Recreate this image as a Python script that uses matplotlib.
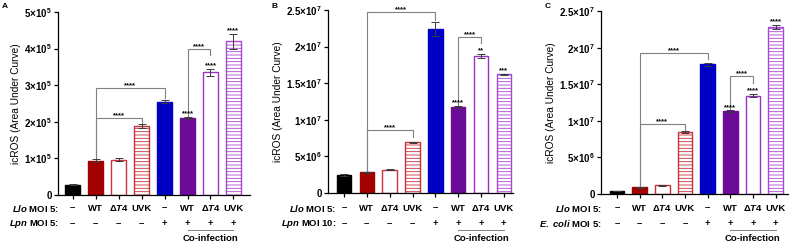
import matplotlib
matplotlib.use("Agg")
import matplotlib.pyplot as plt
import matplotlib.transforms as mtransforms
import numpy as np

plt.rcParams['font.family'] = ['Liberation Sans', 'DejaVu Sans']
plt.rcParams['font.weight'] = 'bold'
plt.rcParams['mathtext.fontset'] = 'custom'
plt.rcParams['mathtext.rm'] = 'Liberation Sans:bold'
plt.rcParams['mathtext.bf'] = 'Liberation Sans:bold'
plt.rcParams['mathtext.it'] = 'Liberation Sans:italic:bold'
plt.rcParams['hatch.linewidth'] = 0.6

################################################################################
# data

row1 = ['\u2013', 'WT', r'$\Delta\mathit{T4}$', 'UVK', '\u2013', 'WT', r'$\Delta\mathit{T4}$', 'UVK']
row2 = ['\u2013', '\u2013', '\u2013', '\u2013', '+', '+', '+', '+']

a_mean = [0.28e5, 0.93e5, 0.96e5, 1.88e5, 2.55e5, 2.10e5, 3.35e5, 4.20e5]
a_err = [0.02e5, 0.04e5, 0.04e5, 0.05e5, 0.04e5, 0.03e5, 0.10e5, 0.20e5]
b_mean = [2.45e6, 2.85e6, 3.2e6, 6.9e6, 2.24e7, 1.18e7, 1.875e7, 1.62e7]
b_err = [0.08e6, 0.08e6, 0.05e6, 0.12e6, 1.0e6, 0.12e6, 0.3e6, 0.1e6]
c_mean = [0.4e6, 0.9e6, 1.2e6, 8.45e6, 1.775e7, 1.13e7, 1.345e7, 2.28e7]
c_err = [0.05e6, 0.08e6, 0.08e6, 0.1e6, 0.2e6, 0.12e6, 0.2e6, 0.3e6]

a_stars = ['', '', '', '', '', '****', '****', '****']
b_stars = ['', '', '', '', '', '****', '**', '***']
c_stars = ['', '', '', '', '', '****', '****', '****']

# brackets: (x1, x2, y_bar, y_right_leg, label)
a_brackets = [(1, 3, 2.10e5, 1.94e5, '****'), (1, 4, 2.92e5, 2.65e5, '****'), (5, 6, 3.98e5, 3.82e5, '****')]
b_brackets = [(1, 3, 8.6e6, 7.7e6, '****'), (1, 4, 2.473e7, 2.37e7, '****'), (5, 6, 2.13e7, 2.05e7, '****')]
c_brackets = [(1, 3, 9.6e6, 8.8e6, '****'), (1, 4, 1.93e7, 1.84e7, '****'), (5, 6, 1.61e7, 1.52e7, '****')]

a_ticks = [0, 1e5, 2e5, 3e5, 4e5, 5e5]
a_ticklabels = ['0', r'$1{\times}10^{5}$', r'$2{\times}10^{5}$', r'$3{\times}10^{5}$', r'$4{\times}10^{5}$', r'$5{\times}10^{5}$']
bc_ticks = [0, 5e6, 1e7, 1.5e7, 2e7, 2.5e7]
bc_ticklabels = ['0', r'$5{\times}10^{6}$', r'$1{\times}10^{7}$', r'$1.5{\times}10^{7}$', r'$2{\times}10^{7}$', r'$2.5{\times}10^{7}$']

faces = ['black', '#a30000', 'white', 'white', '#0000c4', '#6c0a9a', 'white', 'white']
edges = ['black', '#a30000', '#c8303a', '#c8303a', '#0000c4', '#6c0a9a', '#9a30c8', '#a848d4']
hatches = [None, None, None, '-----', None, None, None, '-----']

################################################################################

def bracket(ax, x1, x2, y, y2, y1, label):
	ax.plot([x1, x1, x2, x2], [y1, y, y, y2], color='#808080', lw=0.8, solid_joinstyle='miter')
	ax.annotate(label, ((x1 + x2) / 2, y), xytext=(0, 0.5), textcoords='offset points',
		ha='center', va='baseline', fontsize=5.5)

def panel(rect, letter, mean, err, stars, brackets, ticks, ticklabels, xlim, ylim, row2_title, title_x):
	ax = fig.add_axes(rect)
	x = np.arange(len(mean))
	for i in x:
		ax.bar(i, mean[i], width=0.64, color=faces[i], edgecolor=edges[i], hatch=hatches[i], linewidth=1.0, zorder=2)
	ax.errorbar(x, mean, yerr=err, fmt='none', ecolor='#3a3a3a', elinewidth=0.7, capsize=2.6, capthick=0.7, zorder=3)
	for i in x:
		if stars[i]:
			ax.annotate(stars[i], (i, mean[i] + err[i]), xytext=(0, 1.2), textcoords='offset points',
				ha='center', va='baseline', fontsize=5.5)
	for (x1, x2, y, y2, lab) in brackets:
		bracket(ax, x1, x2, y, y2, mean[x1] + err[x1], lab)
	ax.set_xlim(*xlim)
	ax.set_ylim(*ylim)
	ax.set_yticks(ticks)
	ax.set_yticklabels(ticklabels, fontsize=7)
	ax.set_xticks(x)
	ax.set_xticklabels([])
	ax.tick_params(length=3, width=0.9, pad=1.5)
	for s in ['top', 'right']:
		ax.spines[s].set_visible(False)
	for s in ['left', 'bottom']:
		ax.spines[s].set_linewidth(0.9)
	ax.set_ylabel('icROS (Area Under Curve)', fontsize=7.3, labelpad=2)

	tr = mtransforms.blended_transform_factory(ax.transData, fig.transFigure)
	for i in x:
		fig.text(i, 0.1475, row1[i], transform=tr, ha='center', va='center', fontsize=6.8)
		fig.text(i, 0.084, row2[i], transform=tr, ha='center', va='center', fontsize=6.8)
	fig.text(title_x, 0.1475, r'$\mathit{Llo}$ MOI 5:', transform=tr, ha='right', va='center', fontsize=6.8)
	fig.text(title_x, 0.084, row2_title, transform=tr, ha='right', va='center', fontsize=6.8)
	fig.add_artist(plt.Line2D([5, 7], [0.058, 0.058], transform=tr, color='#808080', lw=0.7))
	fig.text(6, 0.022, 'Co-infection', transform=tr, ha='center', va='center', fontsize=6.8)
	fig.text(rect[0] - 0.071, 0.975, letter, ha='left', va='center', fontsize=6)
	return ax

################################################################################

fig = plt.figure(figsize=(7.92, 2.44), dpi=100)

axA = panel([58 / 792, 49 / 244, 192 / 792, 183 / 244], 'A', a_mean, a_err, a_stars, a_brackets,
	a_ticks, a_ticklabels, (-0.64, 7.72), (0, 5e5), r'$\mathit{Lpn}$ MOI 5:', -0.6)
axB = panel([328 / 792, 51 / 244, 185 / 792, 183 / 244], 'B', b_mean, b_err, b_stars, b_brackets,
	bc_ticks, bc_ticklabels, (-0.7, 7.4), (0, 2.5e7), r'$\mathit{Lpn}$ MOI 10:', -0.35)
axC = panel([601 / 792, 50 / 244, 187 / 792, 183 / 244], 'C', c_mean, c_err, c_stars, c_brackets,
	bc_ticks, bc_ticklabels, (-0.71, 7.55), (0, 2.5e7), r'$\mathit{E.\ coli}$ MOI 5:', -0.68)

fig.savefig('out.png', dpi=100)
